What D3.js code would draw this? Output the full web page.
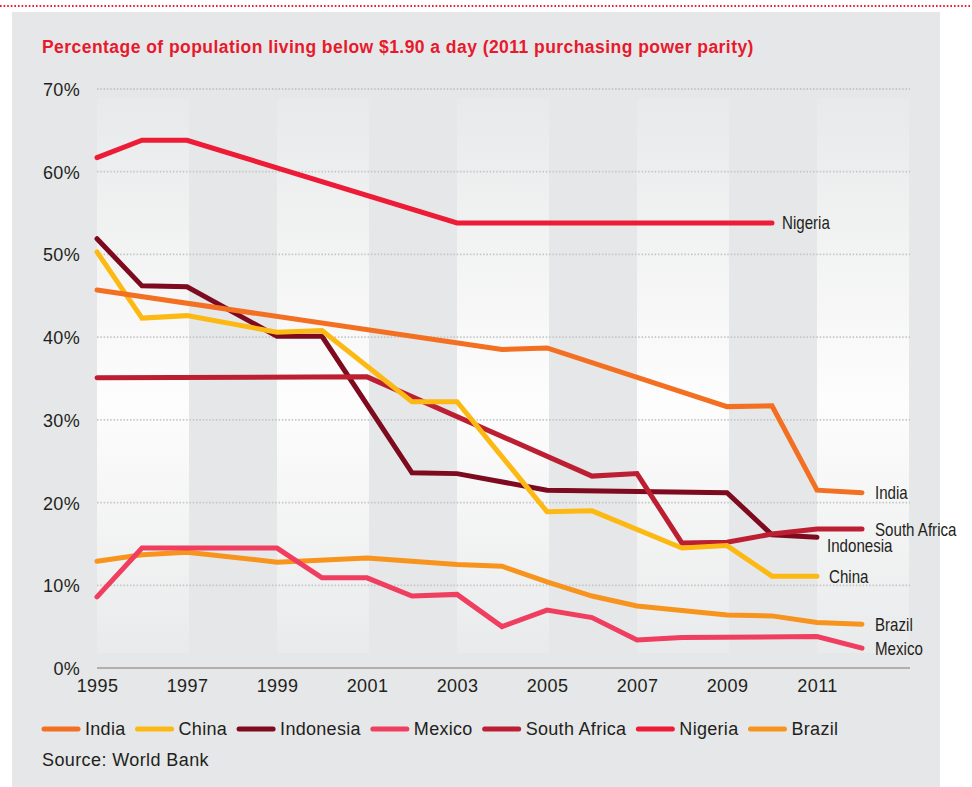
<!DOCTYPE html>
<meta charset="utf-8">
<style>
body { margin: 0; background: #fff; }
svg text { font-family: "Liberation Sans", Arial, Helvetica, sans-serif; fill: #231f20; }
.endlab { font-size: 18px; }
</style>
<svg width="972" height="787"></svg>
<script src="https://d3js.org/d3.v7.min.js"></script>
<script>

var years = d3.range(1995, 2013);
var yTicks = [0, 10, 20, 30, 40, 50, 60, 70];
var xTicks = [1995, 1997, 1999, 2001, 2003, 2005, 2007, 2009, 2011];
var bandStarts = [1995, 1999, 2003, 2007, 2011];

// one value per year 1995..2012, null where the chart has no vertex
var india       = [45.7, null, null, null, null, null, null, null, null, 38.5, 38.7, null, null, null, 31.6, 31.7, 21.5, 21.2];
var china       = [50.3, 42.3, 42.6, null, 40.6, 40.8, null, 32.2, 32.2, null, 18.9, 19.0, null, 14.5, 14.8, 11.1, 11.1, null];
var indonesia   = [51.9, 46.2, 46.1, null, 40.1, 40.1, null, 23.6, 23.5, null, 21.5, null, null, null, 21.2, 16.1, 15.8, null];
var mexico      = [8.6, 14.5, null, null, 14.5, 10.9, 10.9, 8.7, 8.9, 5.0, 7.0, 6.1, 3.4, 3.7, null, null, 3.8, 2.4];
var southAfrica = [35.1, null, null, null, null, null, 35.2, null, null, null, null, 23.2, 23.5, 15.1, 15.2, 16.2, 16.8, 16.8];
var nigeria     = [61.7, 63.8, 63.8, null, null, null, null, null, 53.8, null, null, null, null, null, null, 53.8, null, null];
var brazil      = [12.9, 13.7, 14.0, null, 12.8, null, 13.3, null, 12.5, 12.3, 10.4, 8.7, 7.5, null, 6.4, 6.3, 5.5, 5.3];

var series = [
  {name: "India", values: india, color: "#f36f21", dx: 13, dy: 0},
  {name: "China", values: china, color: "#fdb913", dx: 12, dy: 0},
  {name: "Indonesia", values: indonesia, color: "#7d0a1e", dx: 10, dy: 8},
  {name: "Mexico", values: mexico, color: "#ef3e5f", dx: 13, dy: 0},
  {name: "South Africa", values: southAfrica, color: "#bc1e32", dx: 13, dy: 0},
  {name: "Nigeria", values: nigeria, color: "#ed1b35", dx: 10, dy: 0},
  {name: "Brazil", values: brazil, color: "#f7941d", dx: 13, dy: 0}
];
var drawOrder = ["Brazil", "Indonesia", "South Africa", "China", "India", "Mexico", "Nigeria"];

var svg = d3.select("svg");

var x = d3.scaleLinear().domain([1995, 2013]).range([97, 907]),
    y = d3.scaleLinear().domain([0, 70]).range([668, 89]);

// top dotted rule and panel
svg.append("line")
    .attr("x1", 0).attr("x2", 972).attr("y1", 6).attr("y2", 6)
    .attr("stroke", "#ed1b35").attr("stroke-width", 2)
    .attr("stroke-dasharray", "1.6,2");
svg.append("rect")
    .attr("x", 12).attr("y", 12).attr("width", 928).attr("height", 775)
    .attr("fill", "#e6e7e8");

var grad = svg.append("defs").append("linearGradient")
    .attr("id", "band").attr("x1", 0).attr("x2", 0).attr("y1", 0).attr("y2", 1);
grad.append("stop").attr("offset", "0%").attr("stop-color", "#e8e9ea");
grad.append("stop").attr("offset", "55%").attr("stop-color", "#fdfdfd");
grad.append("stop").attr("offset", "100%").attr("stop-color", "#e9eaeb");

svg.selectAll(".band")
  .data(bandStarts)
  .enter().append("rect")
    .attr("class", "band")
    .attr("x", function(d) { return x(d); })
    .attr("y", 98)
    .attr("width", function(d) { return x(d + 2) - x(d) + 2; })
    .attr("height", 555)
    .attr("fill", "url(#band)");

// title
svg.append("text")
    .attr("x", 42).attr("y", 53)
    .style("font-weight", "bold").style("font-size", "17.5px")
    .style("letter-spacing", "0.45px")
    .style("fill", "#e8192c")
    .text("Percentage of population living below $1.90 a day (2011 purchasing power parity)");

// grid
svg.selectAll(".grid")
  .data(yTicks.filter(function(d) { return d > 0; }))
  .enter().append("line")
    .attr("class", "grid")
    .attr("x1", x(1995)).attr("x2", 910)
    .attr("y1", function(d) { return y(d); })
    .attr("y2", function(d) { return y(d); })
    .attr("stroke", "#c5c6c8").attr("stroke-width", 1.8)
    .attr("stroke-dasharray", "1.5,1.8");

svg.append("line")
    .attr("x1", x(1995)).attr("x2", 910)
    .attr("y1", y(0)).attr("y2", y(0))
    .attr("stroke", "#a59c94").attr("stroke-width", 1.6);

// axes
var yAxis = svg.append("g")
    .attr("transform", "translate(80,0)")
    .call(d3.axisLeft(y).tickValues(yTicks).tickSize(0).tickPadding(0)
      .tickFormat(function(d) { return d + "%"; }));
yAxis.select(".domain").remove();
yAxis.selectAll("text").style("font-size", "18px").style("letter-spacing", "0.3px").attr("dy", "0.36em");

var xAxis = svg.append("g")
    .attr("transform", "translate(0," + 679 + ")")
    .call(d3.axisBottom(x).tickValues(xTicks).tickSize(0).tickPadding(0)
      .tickFormat(d3.format("d")));
xAxis.select(".domain").remove();
xAxis.selectAll("text").style("font-size", "18px").style("letter-spacing", "0.4px").attr("dy", "0.71em");

// lines
var line = d3.line()
    .x(function(d) { return x(d.year); })
    .y(function(d) { return y(d.value); });

function points(s) {
  return years.map(function(yr, i) { return {year: yr, value: s.values[i]}; })
    .filter(function(d) { return d.value !== null; });
}

var ordered = drawOrder.map(function(n) { return series.find(function(s) { return s.name === n; }); });

svg.selectAll(".series")
  .data(ordered)
  .enter().append("path")
    .attr("class", "series")
    .attr("fill", "none")
    .attr("stroke", function(d) { return d.color; })
    .attr("stroke-width", 5)
    .attr("stroke-linejoin", "miter")
    .attr("stroke-linecap", "round")
    .attr("d", function(d) { return line(points(d)); });

// end labels, condensed by a horizontal squeeze
svg.selectAll(".endlab")
  .data(series)
  .enter().append("text")
    .attr("class", "endlab")
    .attr("transform", function(d) {
      var p = points(d), last = p[p.length - 1];
      return "translate(" + (x(last.year) + d.dx) + "," + (y(last.value) + d.dy) + ") scale(0.84,1)";
    })
    .attr("dy", "0.36em")
    .text(function(d) { return d.name; });

// legend
var lg = svg.append("g").attr("transform", "translate(42,729)");
var lx = 0;
series.forEach(function(s) {
  var it = lg.append("g").attr("transform", "translate(" + lx + ",0)");
  it.append("line")
      .attr("x1", 2).attr("x2", 36).attr("y1", 0).attr("y2", 0)
      .attr("stroke", s.color).attr("stroke-width", 5).attr("stroke-linecap", "round");
  var t = it.append("text")
      .attr("x", 43).attr("dy", "0.35em")
      .style("font-size", "18px").style("letter-spacing", "0.3px")
      .text(s.name);
  lx += 43 + t.node().getComputedTextLength() + 10;
});

svg.append("text")
    .attr("x", 42).attr("y", 766)
    .style("font-size", "18px").style("letter-spacing", "0.4px")
    .text("Source: World Bank");

</script>
